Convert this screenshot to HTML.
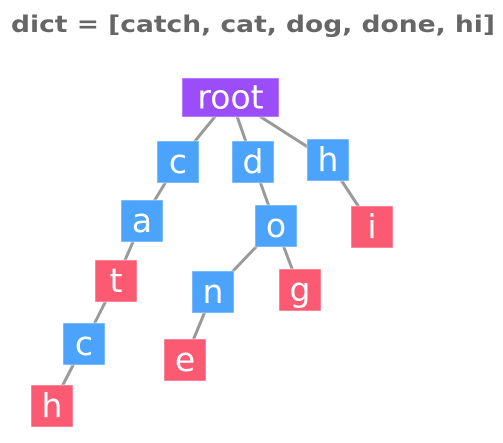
<!DOCTYPE html>
<html><head><meta charset="utf-8"><style>
html,body{margin:0;padding:0;background:#fff;width:503px;height:443px;overflow:hidden}
svg{display:block}
</style></head><body>
<svg width="503" height="443">
<text x="11" y="32" font-family="DejaVu Sans, sans-serif" font-weight="bold" font-size="23" fill="#666" textLength="484" lengthAdjust="spacingAndGlyphs">dict = [catch, cat, dog, done, hi]</text>
<g id="edges"></g>
<g id="nodes"></g>
</svg>
<script>
const labels = ["root","c","d","h","a","o","i","t","n","g","c","e","h"];
const parents = [-1,0,0,0,1,2,3,4,5,5,7,8,10];
const kinds = ["root","mid","mid","mid","mid","mid","end","end","mid","end","mid","end","end"];
const boxes = [[182,78,97,39],[157,141,42,42],[232,141,42,42],[307,139,42,42],[121,200,42,42],[255,205,42,42],[351,206,42,42],[95,260,42,42],[192,271,42,42],[279,269,42,42],[63,323,42,42],[164,339,42,42],[31,385,42,42]];
const colors = {root:"#9b4dfa",mid:"#4ba3fb",end:"#fb5a72"};
const NS="http://www.w3.org/2000/svg";
const eg=document.getElementById('edges'), ng=document.getElementById('nodes');
function ctr(i){const b=boxes[i];return [b[0]+b[2]/2,b[1]+b[3]/2];}
parents.forEach((p,i)=>{
  if(p<0) return;
  const a=ctr(p), b=ctr(i);
  const l=document.createElementNS(NS,'line');
  l.setAttribute('x1',a[0]);l.setAttribute('y1',a[1]);l.setAttribute('x2',b[0]);l.setAttribute('y2',b[1]);
  l.setAttribute('stroke','#999');l.setAttribute('stroke-width','3');
  
  
  eg.appendChild(l);
});
labels.forEach((t,i)=>{
  const b=boxes[i];
  const g=document.createElementNS(NS,'g');
  
  
  const r=document.createElementNS(NS,'rect');
  r.setAttribute('x',b[0]);r.setAttribute('y',b[1]);r.setAttribute('width',b[2]);r.setAttribute('height',b[3]);
  r.setAttribute('fill',colors[kinds[i]]);r.setAttribute('stroke','#fff');r.setAttribute('stroke-opacity','0.5');
  g.appendChild(r);
  const tx=document.createElementNS(NS,'text');
  tx.setAttribute('x',b[0]+b[2]/2);tx.setAttribute('y',b[1]+b[3]/2+11);
  tx.setAttribute('text-anchor','middle');tx.setAttribute('fill','#fff');
  tx.setAttribute('font-family','DejaVu Sans, sans-serif');tx.setAttribute('font-size','33');
  tx.textContent=t;
  g.appendChild(tx);
  ng.appendChild(g);
});
</script>
</body></html>
